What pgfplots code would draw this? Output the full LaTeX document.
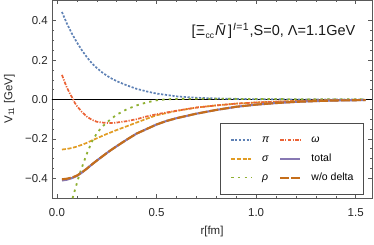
\documentclass[border=0pt]{standalone}
\usepackage{fontspec}
\setmainfont{Liberation Sans}
\usepackage{pgfplots}
\pgfplotsset{compat=1.18}
\definecolor{cpi}{rgb}{0.368417,0.506779,0.709798}
\definecolor{csig}{rgb}{0.880722,0.611041,0.142051}
\definecolor{crho}{rgb}{0.560181,0.691569,0.194885}
\definecolor{come}{rgb}{0.922526,0.385626,0.209179}
\definecolor{ctot}{rgb}{0.528488,0.470624,0.701351}
\definecolor{cwod}{rgb}{0.772079,0.431554,0.102387}
\tikzset{
  spi/.style={cpi, line width=1.7bp, dash pattern=on 2.2bp off 1.6bp},
  ssig/.style={csig, line width=1.7bp, dash pattern=on 4bp off 1.6bp},
  srho/.style={crho, line width=1.8bp, dash pattern=on 2.4bp off 4.2bp},
  some/.style={come, line width=1.7bp, dash pattern=on 3.5bp off 1.3bp on 1.2bp off 1.3bp},
  stot/.style={ctot, line width=2.1bp},
  swod/.style={cwod, line width=2.1bp, dash pattern=on 9bp off 2bp},
}
\newcommand\mysub[1]{\raisebox{-2.5bp}{\fontsize{8.5bp}{10bp}\selectfont #1}}
\newcommand\mysup[1]{\raisebox{5.5bp}{\fontsize{10.5bp}{11bp}\selectfont #1}}
\begin{document}
\begin{tikzpicture}
\begin{axis}[
  scale only axis, width=320bp, height=198bp,
  xmin=-0.025, xmax=1.582, ymin=-0.5, ymax=0.505,
  axis line style={black!65, line width=0.6bp},
  tick style={black!65, line width=0.5bp},
  tick align=inside, tick pos=both, xticklabel pos=left, yticklabel pos=left,
  major tick length=4.5bp, minor tick length=2.5bp,
  xtick={0,0.5,1,1.5}, xticklabels={0.0,0.5,1.0,1.5},
  ytick={-0.4,-0.2,0,0.2,0.4}, yticklabels={−0.4,−0.2,0.0,0.2,0.4},
  minor x tick num=4, minor y tick num=3,
  ticklabel style={font=\fontsize{11.5bp}{13bp}\selectfont, text=black!85},
  xticklabel style={anchor=base, inner sep=0pt, yshift=-18bp},
  yticklabel style={anchor=east, inner sep=0pt, xshift=-4bp},
  xlabel={r[fm]}, ylabel={V\textsubscript{11} [GeV]},
  label style={font=\fontsize{11.5bp}{13bp}\selectfont, text=black!85},
  xlabel style={at={(axis description cs:0.5,-0.17)}, anchor=center},
  ylabel style={at={(axis description cs:-0.133,0.5)}, anchor=center},
  legend style={at={(rel axis cs:0.525,0.0152)}, anchor=south west,
    draw=black!70, line width=0.8bp, fill=white, inner xsep=10bp, inner ysep=12bp,
    font=\fontsize{10.5bp}{12bp}\selectfont,
    nodes={inner sep=0pt, text height=7.5bp, text depth=2.5bp},
    column sep=10bp, row sep=8.8bp},
  legend columns=2, legend cell align=left,
  legend image code/.code={\draw[#1] (0bp,0bp) -- (20bp,0bp);},
]
\addplot[black, line width=0.5bp, forget plot] coordinates {(-0.1,0) (1.7,0)};
% pi
\addplot[spi, forget plot] coordinates {
(0.025,0.444) (0.05,0.385) (0.075,0.334) (0.1,0.290) (0.125,0.250) (0.15,0.215)
(0.175,0.184) (0.2,0.160) (0.225,0.139) (0.25,0.121) (0.275,0.106) (0.3,0.093)
(0.35,0.072) (0.4,0.054) (0.45,0.041) (0.5,0.030) (0.6,0.016) (0.7,0.009)
(0.8,0.005) (0.9,0.0028) (1.0,0.0016) (1.1,0.0009) (1.2,0.0005) (1.35,0.0002) (1.55,0.0001)};
% sigma
\addplot[ssig, forget plot] coordinates {
(0.025,-0.254) (0.05,-0.251) (0.075,-0.246) (0.1,-0.239) (0.125,-0.230) (0.15,-0.220)
(0.175,-0.208) (0.2,-0.197) (0.25,-0.175) (0.3,-0.155) (0.35,-0.136) (0.4,-0.117)
(0.45,-0.098) (0.5,-0.080) (0.6,-0.058) (0.7,-0.041) (0.8,-0.030) (0.9,-0.021)
(1.0,-0.015) (1.1,-0.011) (1.2,-0.0075) (1.3,-0.005) (1.4,-0.0035) (1.55,-0.002)};
% rho
\addplot[srho, forget plot] coordinates {
(0.06,-0.60) (0.07,-0.53) (0.08,-0.495) (0.09,-0.46) (0.1,-0.425) (0.11,-0.39)
(0.125,-0.345) (0.15,-0.275) (0.175,-0.215) (0.2,-0.172) (0.225,-0.14) (0.25,-0.117)
(0.275,-0.096) (0.3,-0.077) (0.35,-0.05) (0.4,-0.03) (0.45,-0.015) (0.5,-0.004)
(0.55,0.001) (0.6,0.003) (0.7,0.0035) (0.8,0.0035) (0.9,0.003) (1.0,0.0025)
(1.2,0.0015) (1.4,0.001) (1.55,0.0007)};
% omega
\addplot[some, forget plot] coordinates {
(0.025,0.125) (0.04,0.085) (0.05,0.06) (0.065,0.03) (0.08,0.003) (0.09,-0.018)
(0.1,-0.033) (0.125,-0.063) (0.15,-0.087) (0.175,-0.103) (0.2,-0.113) (0.225,-0.117)
(0.25,-0.119) (0.275,-0.119) (0.3,-0.117) (0.35,-0.110) (0.4,-0.100) (0.45,-0.086)
(0.5,-0.075) (0.6,-0.057) (0.7,-0.041) (0.8,-0.030) (0.9,-0.021) (1.0,-0.015)
(1.1,-0.011) (1.2,-0.008) (1.3,-0.005) (1.4,-0.004) (1.55,-0.002)};
% total
\addplot[stot, forget plot] coordinates {
(0.025,-0.411) (0.05,-0.407) (0.075,-0.399) (0.1,-0.388) (0.125,-0.371) (0.15,-0.351)
(0.175,-0.330) (0.2,-0.310) (0.225,-0.291) (0.25,-0.272) (0.275,-0.254) (0.3,-0.237)
(0.35,-0.204) (0.4,-0.173) (0.45,-0.150) (0.5,-0.127) (0.55,-0.109) (0.6,-0.095)
(0.7,-0.072) (0.8,-0.053) (0.9,-0.037) (1.0,-0.026) (1.1,-0.018) (1.2,-0.012)
(1.3,-0.008) (1.4,-0.005) (1.55,-0.003)};
% w/o delta
\addplot[swod, forget plot] coordinates {
(0.025,-0.405) (0.05,-0.402) (0.075,-0.396) (0.1,-0.386) (0.125,-0.370) (0.15,-0.351)
(0.175,-0.330) (0.2,-0.310) (0.225,-0.291) (0.25,-0.272) (0.275,-0.254) (0.3,-0.237)
(0.35,-0.204) (0.4,-0.173) (0.45,-0.150) (0.5,-0.127) (0.55,-0.109) (0.6,-0.095)
(0.7,-0.072) (0.8,-0.053) (0.9,-0.037) (1.0,-0.026) (1.1,-0.018) (1.2,-0.012)
(1.3,-0.008) (1.4,-0.005) (1.55,-0.003)};
\addlegendimage{spi}\addlegendentry{\textit{π}}
\addlegendimage{some}\addlegendentry{\textit{ω}}
\addlegendimage{ssig}\addlegendentry{\textit{σ}}
\addlegendimage{stot}\addlegendentry{total}
\addlegendimage{srho}\addlegendentry{\textit{ρ}}
\addlegendimage{swod}\addlegendentry{w/o delta}
\node[anchor=base west, inner sep=0pt, font=\fontsize{14.5bp}{16bp}\selectfont, text=black!90]
  at (rel axis cs:0.436,0.8207) {[Ξ\kern0.5bp\mysub{cc}\kern1bp\textit{N̄}\kern0.5bp]\kern1bp\mysup{\textit{I}\kern0.3bp=\kern0.3bp1}\kern1bp,S=0, Λ=1.1GeV};
\end{axis}
\pgfresetboundingbox
\useasboundingbox (-52bp,-47bp) rectangle (322bp,198bp);
\end{tikzpicture}
\end{document}
